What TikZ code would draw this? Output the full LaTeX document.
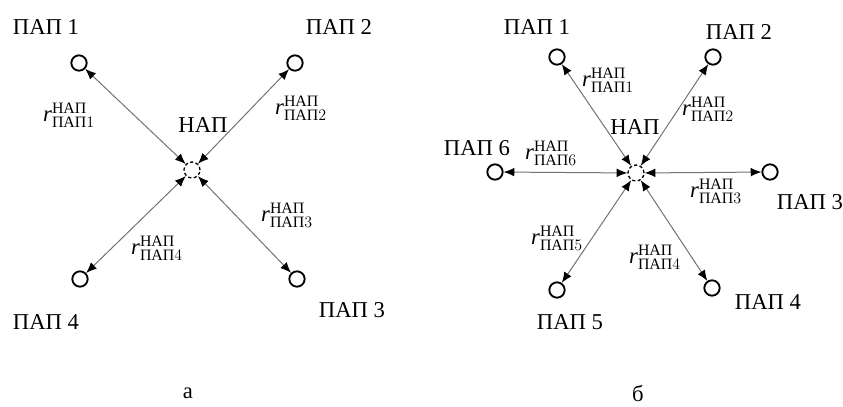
\documentclass[tikz,border=0pt]{standalone}
\usepackage{amsmath}
\usepackage{fontspec}
\setmainfont{Liberation Serif}
\usetikzlibrary{arrows.meta,positioning}
\newcommand{\rdist}[1]{\textit{r}$^{\text{НАП}}_{\text{ПАП}#1}$}

\begin{document}
\begin{tikzpicture}[x=0.75pt,y=-0.75pt,
  every node/.style={font=\fontsize{17}{20}\selectfont},
  pap/.style={circle,draw,line width=1.4pt,minimum size=11.5pt,inner sep=0pt},
  nap/.style={circle,draw,line width=1pt,dash pattern=on 2.4pt off 1.8pt,minimum size=12pt,inner sep=0pt},
  link/.style={draw=black!55,line width=0.75pt,{Latex[length=8pt,width=6.5pt,black]}-{Latex[length=8pt,width=6.5pt,black]}},
  dist/.style={inner sep=0pt}]
  \useasboundingbox (0,0) rectangle (843,407);

  % (a) four peripheral points
  \node[nap] (na) at (192,170) {};
  \node[pap] (a1) at (79,63) {};
  \node[pap] (a2) at (295,63) {};
  \node[pap] (a3) at (297,279) {};
  \node[pap] (a4) at (80,279) {};
  \draw[link] (na) -- (a1);
  \draw[link] (na) -- (a2);
  \draw[link] (na) -- (a3);
  \draw[link] (na) -- (a4);
  \node (ta1) at (46,27) {ПАП 1};
  \node (ta2) at (339,27) {ПАП 2};
  \node (ta3) at (352,310) {ПАП 3};
  \node (ta4) at (46,322) {ПАП 4};
  \node (tna) at (203,125) {НАП};
  \node[dist] (ra1) at (69,115) {\rdist{1}};
  \node[dist] (ra2) at (301,108) {\rdist{2}};
  \node[dist] (ra3) at (287,215) {\rdist{3}};
  \node[dist] (ra4) at (157,248) {\rdist{4}};
  \node (capa) at (188,393) {а};

  % (b) six peripheral points
  \node[nap] (nb) at (636,173) {};
  \node[pap] (b1) at (557,57) {};
  \node[pap] (b2) at (713,57) {};
  \node[pap] (b3) at (770,172) {};
  \node[pap] (b4) at (712,288) {};
  \node[pap] (b5) at (557,290) {};
  \node[pap] (b6) at (495,172) {};
  \draw[link] (nb) -- (b1);
  \draw[link] (nb) -- (b2);
  \draw[link] (nb) -- (b3);
  \draw[link] (nb) -- (b4);
  \draw[link] (nb) -- (b5);
  \draw[link] (nb) -- (b6);
  \node (tb1) at (537,27) {ПАП 1};
  \node (tb2) at (739,32) {ПАП 2};
  \node (tb3) at (810,202) {ПАП 3};
  \node (tb4) at (768,302) {ПАП 4};
  \node (tb5) at (570,322) {ПАП 5};
  \node (tb6) at (477,148) {ПАП 6};
  \node (tnb) at (635,127) {НАП};
  \node[dist] (rb1) at (608,80) {\rdist{1}};
  \node[dist] (rb2) at (708,109) {\rdist{2}};
  \node[dist] (rb3) at (716,191) {\rdist{3}};
  \node[dist] (rb4) at (655,257) {\rdist{4}};
  \node[dist] (rb5) at (557,238) {\rdist{5}};
  \node[dist] (rb6) at (551,153) {\rdist{6}};
  \node (capb) at (638,393) {б};
\end{tikzpicture}
\end{document}
